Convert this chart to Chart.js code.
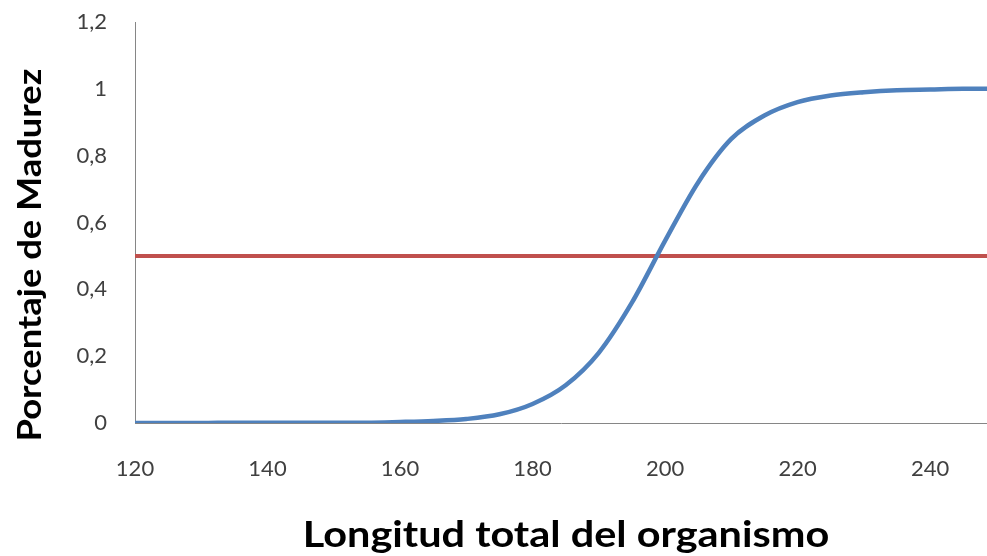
<!DOCTYPE html>
<html>
<head>
<meta charset="utf-8">
<script src="https://cdn.jsdelivr.net/npm/chart.js@4.4.1/dist/chart.umd.min.js"></script>
<style>
  html, body { margin: 0; padding: 0; background: #fff; }
</style>
</head>
<body>
<canvas id="myChart" width="987" height="556"></canvas>
<script>
// longitud total (x) y porcentaje de madurez
const longitudes = [120,125,130,135,140,145,150,155,160,165,170,175,180,185,190,195,200,205,210,215,220,225,230,235,240,245,250]
const madurez = [0,0,0,0.001,0.001,0.001,0.001,0.001,0.003,0.006,0.012,0.026,0.057,0.113,0.21,0.36,0.545,0.72,0.85,0.92,0.96,0.98,0.99,0.996,0.998,1,1]
const lineaX = [120,250]
const lineaY = [0.5,0.5]
const ticksX = [120,140,160,180,200,220,240]
const ticksY = [0,0.2,0.4,0.6,0.8,1,1.2]

const tituloX = "Longitud total del organismo"
const tituloY = "Porcentaje de Madurez"

const fuente = "Lato, 'Open Sans', sans-serif"
const ctx = document.getElementById('myChart')

// titulos de ejes dibujados a mano para ubicarlos como en el original
const titulos = {
  id: 'titulos',
  afterDraw(chart) {
    const c = chart.ctx
    c.save()
    c.fillStyle = '#000'
    c.textAlign = 'center'
    c.textBaseline = 'middle'
    c.save()
    c.translate(566, 535)
    c.scale(1.12, 1)
    c.font = "bold 37px " + fuente
    c.fillText(tituloX, 0, 0)
    c.restore()
    c.translate(30, 255)
    c.rotate(-Math.PI / 2)
    c.scale(1.1, 1)
    c.font = "bold 33px " + fuente
    c.fillText(tituloY, 0, 0)
    c.restore()
  }
}

new Chart(ctx, {
  type: 'scatter',
  data: {
    datasets: [{
      data: longitudes.map((x, i) => ({ x: x, y: madurez[i] })),
      showLine: true,
      borderColor: '#4F81BD',
      borderWidth: 4.5,
      pointRadius: 0,
      cubicInterpolationMode: 'monotone'
    }, {
      data: lineaX.map((x, i) => ({ x: x, y: lineaY[i] })),
      showLine: true,
      borderColor: '#C0504D',
      borderWidth: 4,
      pointRadius: 0
    }]
  },
  options: {
    responsive: false,
    animation: false,
    layout: { padding: { top: 22, right: 0, left: 0, bottom: 0 } },
    plugins: { legend: { display: false }, tooltip: { enabled: false } },
    scales: {
      x: {
        type: 'linear',
        min: 120,
        max: 248.6,
        afterBuildTicks: (axis) => { axis.ticks = ticksX.map(v => ({ value: v })) },
        afterFit: (axis) => { axis.height = 133; axis.paddingLeft = 0; axis.paddingRight = 0 },
        grid: { drawOnChartArea: false, drawTicks: false },
        border: { display: true, color: '#868686', width: 1 },
        ticks: { padding: 33, color: '#404040', font: { family: fuente, size: 22 }, maxRotation: 0 }
      },
      y: {
        min: 0,
        max: 1.2,
        afterBuildTicks: (axis) => { axis.ticks = ticksY.map(v => ({ value: v })) },
        afterFit: (axis) => { axis.width = 135; axis.paddingTop = 0; axis.paddingBottom = 0 },
        grid: { drawOnChartArea: false, drawTicks: false },
        border: { display: true, color: '#868686', width: 1 },
        ticks: {
          padding: 28,
          color: '#404040',
          font: { family: fuente, size: 22 },
          callback: (v) => String(Math.round(v * 10) / 10).replace('.', ',')
        }
      }
    }
  },
  plugins: [titulos]
})
</script>
</body>
</html>
